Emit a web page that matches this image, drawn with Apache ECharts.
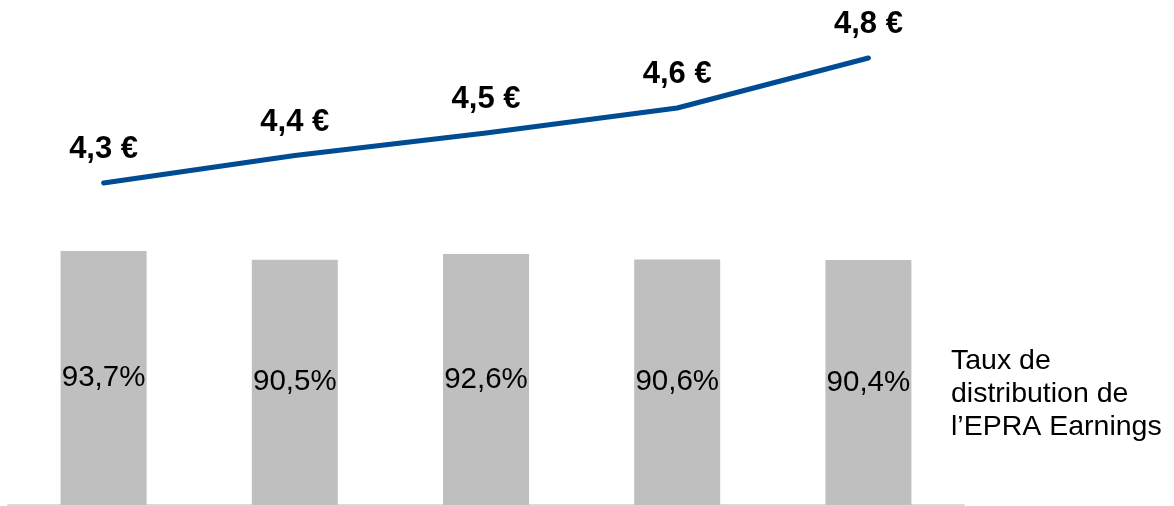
<!DOCTYPE html>
<html>
<head>
<meta charset="utf-8">
<script src="https://cdn.jsdelivr.net/npm/echarts@6/dist/echarts.min.js"></script>
<style>
html,body{margin:0;padding:0;background:#fff;}
#chart{width:1174px;height:506px;}
</style>
</head>
<body>
<div id="chart"></div>
<script>
const categories = ['A', 'B', 'C', 'D', 'E'];
const payoutRatio = [93.7, 90.5, 92.6, 90.6, 90.4];
const epraEarnings = [4.3, 4.41, 4.5, 4.6, 4.8];
const sideLabel = 'Taux de\ndistribution de\nl\u2019EPRA Earnings';

const FONT = '"Liberation Sans", Arial, sans-serif';
const chart = echarts.init(document.getElementById('chart'), null, {renderer: 'canvas'});
chart.setOption({
  animation: false,
  backgroundColor: '#ffffff',
  grid: {left: 8, right: 210, top: 0, bottom: 1, containLabel: false},
  title: {
    text: sideLabel,
    left: 946, top: 340,
    textStyle: {fontFamily: FONT, fontSize: 28.5, fontWeight: 'normal', color: '#000', lineHeight: 33}
  },
  xAxis: {
    type: 'category',
    data: categories,
    axisLine: {show: true, lineStyle: {color: '#D9D9D9', width: 2}},
    axisTick: {show: false},
    axisLabel: {show: false},
    splitLine: {show: false}
  },
  yAxis: [
    {type: 'value', min: 0, max: 186.3, show: false, splitLine: {show: false}},
    {type: 'value', min: 3.012, max: 5.032, show: false, splitLine: {show: false}}
  ],
  series: [
    {
      type: 'bar',
      yAxisIndex: 0,
      data: payoutRatio,
      barWidth: 86,
      itemStyle: {color: '#BFBFBF'},
      label: {
        show: true, position: 'inside',
        fontFamily: FONT, fontSize: 29.5, color: '#000',
        formatter: p => p.value.toFixed(1).replace('.', ',') + '%'
      },
      z: 2
    },
    {
      type: 'line',
      yAxisIndex: 1,
      data: epraEarnings,
      showSymbol: true,
      symbol: 'circle',
      symbolSize: 0,
      lineStyle: {color: '#004C93', width: 5, cap: 'round', join: 'round'},
      itemStyle: {color: '#004C93'},
      label: {
        show: true, position: 'top', distance: 18,
        fontFamily: FONT, fontSize: 31, fontWeight: 'bold', color: '#000',
        formatter: p => p.value.toFixed(1).replace('.', ',') + ' \u20AC'
      },
      z: 3
    }
  ]
});
</script>
</body>
</html>
